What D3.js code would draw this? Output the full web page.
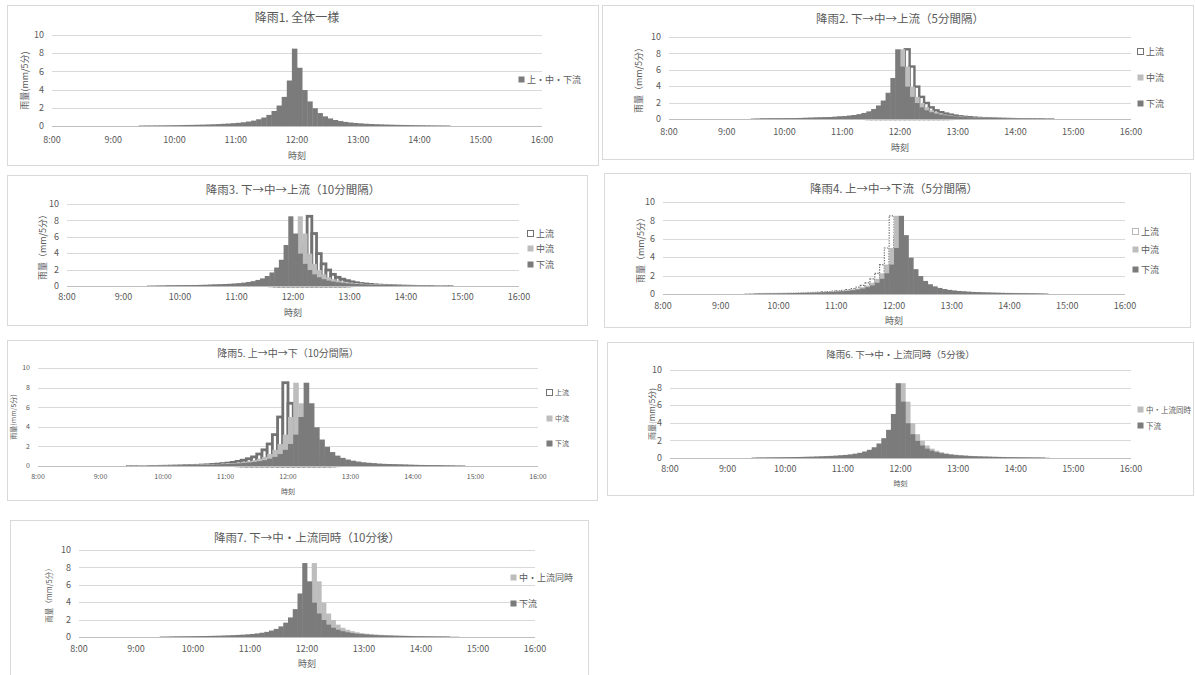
<!DOCTYPE html>
<html>
<head>
<meta charset="utf-8">
<script src="https://cdn.jsdelivr.net/npm/d3@7"></script>
<style>
  html, body { margin: 0; padding: 0; background: #fff; }
  svg { display: block; }
  text { font-family: "Noto Sans CJK JP", "Noto Sans", sans-serif; fill: #595959; }
</style>
</head>
<body>
<svg id="chart" width="1195" height="675"></svg>
<script>
// ---- data -------------------------------------------------------------
// time axis labels (one per hour)
const TICK_LABELS = ["8:00", "9:00", "10:00", "11:00", "12:00", "13:00", "14:00", "15:00", "16:00"];
const Y_TICKS = [0, 2, 4, 6, 8, 10];

// 5-minute rainfall (mm/5min), intervals ending 8:05, 8:10, ... 16:00
const RAIN_5MIN = [
  0, 0, 0, 0, 0, 0, 0, 0, 0, 0, 0, 0,                 // 8:05 - 9:00
  0, 0, 0, 0, 0, 0.053, 0.058, 0.062, 0.068, 0.074, 0.08, 0.088, // 9:05 - 10:00
  0.095, 0.105, 0.115, 0.125, 0.14, 0.15, 0.17, 0.19, 0.21, 0.24, 0.27, 0.31, // 10:05 - 11:00
  0.35, 0.41, 0.49, 0.59, 0.74, 0.93, 1.22, 1.65, 2.25, 3.2, 5.0, 8.5,   // 11:05 - 12:00
  6.4, 3.95, 2.7, 1.95, 1.42, 1.06, 0.83, 0.66, 0.54, 0.45, 0.38, 0.33,   // 12:05 - 13:00
  0.29, 0.25, 0.22, 0.2, 0.18, 0.16, 0.145, 0.13, 0.12, 0.11, 0.1, 0.09,  // 13:05 - 14:00
  0.085, 0.077, 0.071, 0.065, 0.06, 0.055, 0, 0, 0, 0, 0, 0,             // 14:05 - 15:00
  0, 0, 0, 0, 0, 0, 0, 0, 0, 0, 0, 0                  // 15:05 - 16:00
];

const TITLES = [
  "降雨1. 全体一様",
  "降雨2. 下→中→上流（5分間隔）",
  "降雨3. 下→中→上流（10分間隔）",
  "降雨4. 上→中→下流（5分間隔）",
  "降雨5. 上→中→下（10分間隔）",
  "降雨6. 下→中・上流同時（5分後）",
  "降雨7. 下→中・上流同時（10分後）"
];

// series per chart, in drawing order (legend top to bottom)
const SERIES_NAMES = [
  ["上・中・下流"],
  ["上流", "中流", "下流"],
  ["上流", "中流", "下流"],
  ["上流", "中流", "下流"],
  ["上流", "中流", "下流"],
  ["中・上流同時", "下流"],
  ["中・上流同時", "下流"]
];
// arrival delay of each series' rainfall, minutes
const SERIES_LAGS = [
  [0],
  [10, 5, 0],
  [20, 10, 0],
  [0, 5, 10],
  [0, 10, 20],
  [5, 0],
  [10, 0]
];

const X_TITLE = "時刻";
const Y_TITLES = ["雨量(mm/5分)", "雨量（mm/5分）", "雨量（mm/5分）", "雨量（mm/5分）", "雨量(mm/5分)", "雨量(mm/5分)", "雨量（mm/5分）"];

// ---- presentation ------------------------------------------------------
const STYLE = {
  "上・中・下流": { fill: "#7b7b7b" },
  "下流": { fill: "#7b7b7b" },
  "中流": { fill: "#bdbdbd" },
  "中・上流同時": { fill: "#bdbdbd" },
  "上流": { fill: "#ffffff", stroke: "#727272" }
};

const LAYOUT = [
  { box: [7, 5, 591, 160],   plot: [52, 542, 35, 126],   titleY: 22,  titleFs: 12,  fs: 9, xLabY: 143, xTitleY: 159, yTitleX: 25,  legX: 518, legY: [80] },
  { box: [602, 5, 591, 154], plot: [669, 1131, 37, 119], titleY: 23,  titleFs: 11.5, fs: 9, xLabY: 135, xTitleY: 151, yTitleX: 639, legX: 1137, legY: [52, 78, 104], openW: 2.4 },
  { box: [7, 175, 580, 150], plot: [67, 519, 204, 286],  titleY: 194, titleFs: 11.5, fs: 9, xLabY: 300, xTitleY: 316, yTitleX: 43,  legX: 527, legY: [234, 249, 265], openW: 2.8 },
  { box: [604, 173, 586, 154], plot: [663, 1125, 202, 294], titleY: 193, titleFs: 11.5, fs: 9, xLabY: 309, xTitleY: 324, yTitleX: 641, legX: 1132, legY: [232, 250, 270], openW: 1.2, openDash: "1.3,1.3" },
  { box: [7, 340, 590, 160], plot: [38, 538, 368, 466],  titleY: 357, titleFs: 10,  fs: 7, xLabY: 479, xTitleY: 494, yTitleX: 14,  legX: 546, legY: [393, 419, 444], openW: 2.8 },
  { box: [607, 342, 586, 153], plot: [670, 1131, 370, 458], titleY: 358, titleFs: 9.5, fs: 9, xLabY: 472, xTitleY: 486, yTitleX: 652, legX: 1137, legY: [410, 426], xTitleFs: 7, yTitleFs: 8, legFs: 7.5 },
  { box: [10, 520, 578, 160], plot: [79, 535, 550, 637], titleY: 542, titleFs: 11.5, fs: 9, xLabY: 652, xTitleY: 667, yTitleX: 49,  legX: 510, legY: [578, 604], yTitleFs: 7.5 }
];

const svg = d3.select("#chart");
const STEP = 5;          // minutes per bar
const SPAN = 480;        // 8:00 - 16:00

LAYOUT.forEach((L, p) => {
  const g = svg.append("g");
  const [bx, by, bw, bh] = L.box;
  g.append("rect").attr("x", bx + 0.5).attr("y", by + 0.5).attr("width", bw).attr("height", bh)
    .attr("fill", "#fff").attr("stroke", "#d9d9d9").attr("stroke-width", 1);

  const [x0, x1, yTop, yBot] = L.plot;
  const x = d3.scaleLinear().domain([0, SPAN]).range([x0, x1]);
  const y = d3.scaleLinear().domain([0, 10]).range([yBot, yTop]);

  // gridlines
  g.append("g").selectAll("line").data(Y_TICKS.filter(v => v > 0)).join("line")
    .attr("x1", x0).attr("x2", x1)
    .attr("y1", d => Math.round(y(d)) + 0.5).attr("y2", d => Math.round(y(d)) + 0.5)
    .attr("stroke", "#d9d9d9").attr("stroke-width", 1);

  // bars: each series overlaps the previous one fully (later series on top)
  const names = SERIES_NAMES[p];
  names.forEach((name, s) => {
    const lag = SERIES_LAGS[p][s];
    const st = STYLE[name];
    const open = !!st.stroke;
    const bars = RAIN_5MIN.map((v, i) => ({ t0: i * STEP + lag, t1: (i + 1) * STEP + lag, v }))
      .filter(d => d.v > 0 && d.t0 < SPAN);
    const h = d => y(0) - y(d.v);
    g.append("g").selectAll("rect").data(bars).join("rect")
      .attr("x", d => x(d.t0))
      .attr("width", d => x(Math.min(d.t1, SPAN)) - x(d.t0) + (open ? 0 : 0.4))
      .attr("y", d => y(d.v))
      .attr("height", h)
      .attr("fill", st.fill)
      .attr("stroke", open ? st.stroke : "none")
      // outline of open bars stays thin on very low bars
      .attr("stroke-width", d => open ? Math.min(L.openW || 1.5, Math.max(0.4, h(d) * 0.5)) : 0)
      .attr("stroke-dasharray", open && L.openDash ? L.openDash : null);
  });

  // baseline
  g.append("line").attr("x1", x0).attr("x2", x1)
    .attr("y1", Math.round(y(0)) + 0.5).attr("y2", Math.round(y(0)) + 0.5)
    .attr("stroke", "#bfbfbf").attr("stroke-width", 1);

  // y tick labels
  g.append("g").selectAll("text").data(Y_TICKS).join("text")
    .attr("x", x0 - 8).attr("y", d => y(d)).attr("dy", "0.35em")
    .attr("text-anchor", "end").attr("font-size", L.fs).text(d => d);

  // x tick labels
  const xt = d3.scalePoint().domain(TICK_LABELS).range([x0, x1]);
  g.append("g").selectAll("text").data(TICK_LABELS).join("text")
    .attr("x", d => xt(d)).attr("y", L.xLabY)
    .attr("text-anchor", "middle").attr("font-size", L.fs).text(d => d);

  // titles
  g.append("text").attr("x", (x0 + x1) / 2).attr("y", L.titleY)
    .attr("text-anchor", "middle").attr("font-size", L.titleFs).text(TITLES[p]);
  g.append("text").attr("x", (x0 + x1) / 2).attr("y", L.xTitleY)
    .attr("text-anchor", "middle").attr("font-size", L.xTitleFs || L.fs).text(X_TITLE);
  g.append("text")
    .attr("transform", `translate(${L.yTitleX},${(yTop + yBot) / 2}) rotate(-90)`)
    .attr("text-anchor", "middle").attr("dy", "0.35em")
    .attr("font-size", L.yTitleFs || L.fs).text(Y_TITLES[p]);

  // legend
  const leg = g.append("g").selectAll("g").data(names).join("g")
    .attr("transform", (d, i) => `translate(${L.legX},${L.legY[i]})`);
  leg.append("rect").attr("x", 0.5).attr("y", -3.5).attr("width", 6).attr("height", 6)
    .attr("fill", d => STYLE[d].fill)
    .attr("stroke", d => STYLE[d].stroke || "none").attr("stroke-width", 1)
    .attr("stroke-dasharray", d => STYLE[d].stroke && L.openDash ? "1,1" : null);
  leg.append("text").attr("x", 9).attr("y", 0).attr("dy", "0.35em")
    .attr("font-size", L.legFs || L.fs).text(d => d);
});
</script>
</body>
</html>
